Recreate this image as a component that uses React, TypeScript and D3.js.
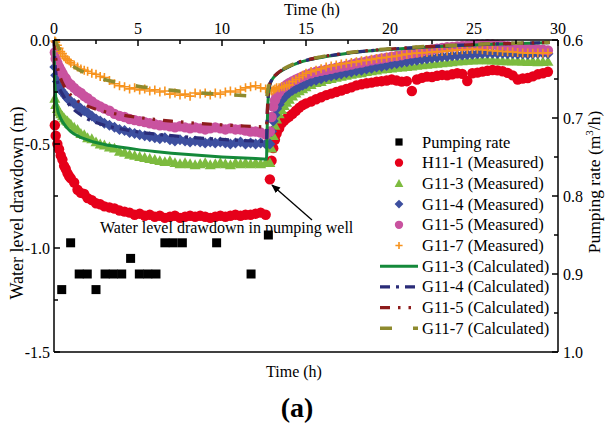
import React from "react";
import * as d3 from "d3";

// ---------- data ----------
const pumpHours = [0.05,0.1,0.2,0.3,0.4,0.5,0.6,0.7,0.8,0.9,1.0,1.2,1.4,1.6,1.8,2.0,2.25,2.5,2.75,3.0,3.3,3.6,3.9,4.2,4.5,4.8,5.1,5.4,5.7,6.0,6.3,6.6,6.9,7.2,7.5,7.8,8.1,8.4,8.7,9.0,9.3,9.6,9.9,10.2,10.5,10.8,11.1,11.4,11.7,12.0,12.3,12.6];
const recHours = [12.85,12.95,13.05,13.15,13.25,13.4,13.55,13.7,13.85,14.0,14.2,14.4,14.6,14.8,15.0,15.3,15.6,15.9,16.2,16.5,16.8,17.1,17.4,17.7,18.0,18.3,18.6,18.9,19.2,19.5,19.8,20.1,20.4,20.7,21.0,21.3,21.6,21.9,22.2,22.5,22.8,23.1,23.4,23.7,24.0,24.3,24.6,24.9,25.2,25.5,25.8,26.1,26.4,26.7,27.0,27.3,27.6,27.9,28.2,28.5,28.8,29.1,29.4];

const h111Pump = [-0.41,-0.46,-0.5,-0.525,-0.555,-0.575,-0.605,-0.62,-0.64,-0.655,-0.665,-0.685,-0.72,-0.735,-0.74,-0.76,-0.77,-0.785,-0.79,-0.8,-0.805,-0.81,-0.82,-0.825,-0.83,-0.84,-0.835,-0.845,-0.84,-0.85,-0.845,-0.855,-0.85,-0.845,-0.855,-0.85,-0.845,-0.85,-0.845,-0.85,-0.855,-0.85,-0.845,-0.85,-0.845,-0.84,-0.845,-0.84,-0.84,-0.835,-0.83,-0.84];
const h111Rec = [-0.67,-0.58,-0.52,-0.48,-0.45,-0.425,-0.4,-0.387,-0.376,-0.368,-0.355,-0.34,-0.325,-0.313,-0.305,-0.296,-0.285,-0.275,-0.265,-0.258,-0.25,-0.243,-0.235,-0.228,-0.218,-0.213,-0.208,-0.205,-0.2,-0.198,-0.195,-0.19,-0.195,-0.2,-0.198,-0.245,-0.19,-0.182,-0.176,-0.178,-0.172,-0.168,-0.17,-0.165,-0.16,-0.163,-0.197,-0.16,-0.157,-0.152,-0.148,-0.144,-0.146,-0.15,-0.158,-0.17,-0.19,-0.185,-0.183,-0.175,-0.165,-0.16,-0.153];

const g113Pump = [-0.28,-0.31,-0.33,-0.345,-0.355,-0.365,-0.375,-0.385,-0.39,-0.4,-0.405,-0.42,-0.43,-0.45,-0.455,-0.47,-0.475,-0.49,-0.5,-0.505,-0.515,-0.52,-0.535,-0.54,-0.55,-0.555,-0.56,-0.565,-0.57,-0.575,-0.58,-0.585,-0.58,-0.59,-0.595,-0.59,-0.595,-0.6,-0.595,-0.59,-0.6,-0.595,-0.59,-0.595,-0.6,-0.59,-0.595,-0.59,-0.595,-0.59,-0.595,-0.59];
const g113Rec = [-0.59,-0.52,-0.46,-0.41,-0.38,-0.355,-0.335,-0.315,-0.3,-0.285,-0.27,-0.255,-0.245,-0.235,-0.225,-0.215,-0.205,-0.2,-0.19,-0.185,-0.18,-0.175,-0.17,-0.165,-0.16,-0.158,-0.152,-0.148,-0.145,-0.14,-0.138,-0.135,-0.132,-0.13,-0.128,-0.125,-0.122,-0.12,-0.117,-0.115,-0.112,-0.11,-0.107,-0.105,-0.102,-0.1,-0.098,-0.097,-0.096,-0.095,-0.096,-0.097,-0.098,-0.1,-0.1,-0.102,-0.1,-0.103,-0.104,-0.102,-0.105,-0.104,-0.103];

const g114Pump = [-0.13,-0.17,-0.2,-0.225,-0.24,-0.25,-0.26,-0.27,-0.28,-0.29,-0.295,-0.305,-0.315,-0.33,-0.34,-0.35,-0.365,-0.38,-0.39,-0.4,-0.41,-0.42,-0.43,-0.435,-0.445,-0.45,-0.455,-0.46,-0.465,-0.47,-0.475,-0.47,-0.48,-0.485,-0.48,-0.485,-0.49,-0.485,-0.49,-0.495,-0.49,-0.495,-0.49,-0.495,-0.5,-0.495,-0.49,-0.5,-0.495,-0.5,-0.495,-0.5];
const g114Rec = [-0.5,-0.44,-0.39,-0.36,-0.33,-0.31,-0.29,-0.275,-0.262,-0.252,-0.242,-0.233,-0.225,-0.217,-0.21,-0.2,-0.193,-0.186,-0.178,-0.173,-0.168,-0.163,-0.158,-0.154,-0.148,-0.145,-0.14,-0.136,-0.13,-0.127,-0.122,-0.117,-0.113,-0.108,-0.104,-0.1,-0.097,-0.093,-0.09,-0.087,-0.084,-0.081,-0.079,-0.076,-0.074,-0.072,-0.07,-0.068,-0.066,-0.065,-0.064,-0.064,-0.065,-0.064,-0.066,-0.065,-0.067,-0.066,-0.068,-0.066,-0.065,-0.064,-0.066];

const g115Pump = [-0.06,-0.09,-0.11,-0.13,-0.145,-0.16,-0.175,-0.185,-0.2,-0.21,-0.215,-0.23,-0.245,-0.255,-0.27,-0.28,-0.295,-0.31,-0.32,-0.33,-0.34,-0.355,-0.365,-0.37,-0.38,-0.385,-0.39,-0.395,-0.4,-0.405,-0.41,-0.41,-0.415,-0.42,-0.415,-0.42,-0.425,-0.42,-0.425,-0.43,-0.425,-0.42,-0.425,-0.43,-0.425,-0.43,-0.43,-0.435,-0.44,-0.44,-0.445,-0.455];
const g115Rec = [-0.44,-0.37,-0.32,-0.29,-0.27,-0.25,-0.235,-0.225,-0.215,-0.207,-0.198,-0.19,-0.182,-0.175,-0.168,-0.16,-0.153,-0.148,-0.143,-0.138,-0.133,-0.128,-0.123,-0.118,-0.112,-0.108,-0.103,-0.098,-0.093,-0.089,-0.085,-0.08,-0.077,-0.073,-0.068,-0.064,-0.06,-0.055,-0.05,-0.046,-0.042,-0.038,-0.035,-0.033,-0.031,-0.029,-0.027,-0.025,-0.023,-0.022,-0.02,-0.021,-0.024,-0.026,-0.03,-0.033,-0.035,-0.037,-0.04,-0.042,-0.045,-0.047,-0.05];

const g117Pump = [-0.005,-0.01,-0.025,-0.04,-0.055,-0.065,-0.08,-0.09,-0.095,-0.1,-0.11,-0.12,-0.13,-0.14,-0.145,-0.15,-0.16,-0.165,-0.175,-0.18,-0.195,-0.21,-0.22,-0.225,-0.235,-0.23,-0.24,-0.235,-0.245,-0.24,-0.25,-0.245,-0.26,-0.255,-0.265,-0.26,-0.27,-0.255,-0.26,-0.255,-0.265,-0.255,-0.26,-0.25,-0.245,-0.25,-0.24,-0.23,-0.225,-0.22,-0.23,-0.235];
const g117Rec = [-0.24,-0.245,-0.24,-0.235,-0.23,-0.23,-0.225,-0.225,-0.22,-0.215,-0.2,-0.19,-0.18,-0.17,-0.16,-0.152,-0.145,-0.138,-0.13,-0.125,-0.12,-0.115,-0.112,-0.108,-0.105,-0.1,-0.097,-0.093,-0.089,-0.086,-0.083,-0.08,-0.077,-0.072,-0.068,-0.065,-0.063,-0.062,-0.06,-0.058,-0.056,-0.055,-0.053,-0.05,-0.048,-0.047,-0.046,-0.045,-0.045,-0.047,-0.049,-0.051,-0.053,-0.055,-0.056,-0.058,-0.06,-0.062,-0.063,-0.064,-0.063,-0.064,-0.062];

const rateHours = [0.46,0.99,1.5,1.98,2.5,3.04,3.53,4.03,4.56,5.08,5.58,6.07,6.6,7.1,7.64,9.68,11.73,12.76];
const rateValues = [0.92,0.86,0.9,0.9,0.92,0.9,0.9,0.9,0.88,0.9,0.9,0.9,0.86,0.86,0.86,0.86,0.9,0.85];

const calcHours = [0,0.05,0.1,0.2,0.35,0.5,0.75,1,1.5,2,2.5,3,4,5,6,7,8,9,10,11,12,12.65,12.68,12.72,12.78,12.85,12.95,13.1,13.3,13.6,14,14.6,15.2,16.2,17.2,18.2,20.2,22.2,24.2,26.1,28.1,29.5];
const g113Calc = [-0.05,-0.2,-0.27,-0.33,-0.368,-0.392,-0.42,-0.44,-0.465,-0.48,-0.493,-0.502,-0.516,-0.527,-0.536,-0.544,-0.551,-0.557,-0.562,-0.566,-0.57,-0.573,-0.45,-0.33,-0.25,-0.215,-0.195,-0.177,-0.162,-0.145,-0.128,-0.108,-0.095,-0.079,-0.067,-0.057,-0.044,-0.034,-0.026,-0.02,-0.016,-0.013];
const g114Calc = [0,-0.1,-0.15,-0.2,-0.237,-0.26,-0.295,-0.32,-0.355,-0.38,-0.397,-0.41,-0.428,-0.442,-0.452,-0.46,-0.467,-0.473,-0.478,-0.482,-0.486,-0.488,-0.4,-0.31,-0.245,-0.213,-0.194,-0.176,-0.161,-0.144,-0.127,-0.107,-0.094,-0.078,-0.066,-0.056,-0.043,-0.033,-0.025,-0.019,-0.015,-0.012];
const g115Calc = [0,-0.05,-0.085,-0.13,-0.175,-0.205,-0.24,-0.265,-0.298,-0.318,-0.333,-0.344,-0.36,-0.372,-0.382,-0.39,-0.397,-0.403,-0.408,-0.412,-0.416,-0.418,-0.37,-0.3,-0.24,-0.21,-0.192,-0.175,-0.16,-0.143,-0.126,-0.106,-0.093,-0.077,-0.065,-0.055,-0.042,-0.032,-0.025,-0.019,-0.015,-0.012];
const g117Calc = [0,-0.002,-0.008,-0.025,-0.05,-0.07,-0.097,-0.117,-0.144,-0.163,-0.178,-0.19,-0.208,-0.222,-0.233,-0.242,-0.25,-0.256,-0.261,-0.266,-0.27,-0.272,-0.265,-0.245,-0.22,-0.2,-0.186,-0.173,-0.159,-0.142,-0.125,-0.105,-0.092,-0.076,-0.064,-0.054,-0.041,-0.031,-0.024,-0.018,-0.014,-0.011];

const topTicks = [0, 5, 10, 15, 20, 25, 30];
const leftTicks = [0, -0.5, -1.0, -1.5];
const rightTicks = [0.6, 0.7, 0.8, 0.9, 1.0];

const legendLabels = [
  "Pumping rate",
  "H11-1 (Measured)",
  "G11-3 (Measured)",
  "G11-4 (Measured)",
  "G11-5 (Measured)",
  "G11-7 (Measured)",
  "G11-3 (Calculated)",
  "G11-4 (Calculated)",
  "G11-5 (Calculated)",
  "G11-7 (Calculated)",
];

// ---------- styles ----------
const FONT = "'Liberation Serif', 'Times New Roman', serif";
const C = {
  red: "#e6001a",
  green: "#7dbb3f",
  blue: "#3d4f9f",
  pink: "#c9529f",
  orange: "#f7931e",
  cGreen: "#14893a",
  cNavy: "#2a2c78",
  cRed: "#8d1c1c",
  cOlive: "#8e8a2e",
};

const zip = (xs: number[], ys: number[]) => xs.slice(0, Math.min(xs.length, ys.length)).map((t, i) => [t, ys[i]] as [number, number]);

function Marker({ kind, cx, cy, s = 1 }: { kind: string; cx: number; cy: number; s?: number }) {
  switch (kind) {
    case "square":
      return <rect x={cx - 4.5 * s} y={cy - 4.5 * s} width={9 * s} height={9 * s} fill="#000" />;
    case "circleRed":
      return <circle cx={cx} cy={cy} r={5.2 * s} fill={C.red} />;
    case "circlePink":
      return <circle cx={cx} cy={cy} r={5.2 * s} fill={C.pink} />;
    case "triangle": {
      const r = 5.5 * s;
      return <path d={`M${cx},${cy - r}L${cx + r},${cy + r * 0.8}L${cx - r},${cy + r * 0.8}Z`} fill={C.green} />;
    }
    case "diamond": {
      const r = 5.5 * s;
      return <path d={`M${cx},${cy - r}L${cx + r},${cy}L${cx},${cy + r}L${cx - r},${cy}Z`} fill={C.blue} />;
    }
    case "plus": {
      const r = 4.5 * s;
      return (
        <path d={`M${cx - r},${cy}H${cx + r}M${cx},${cy - r}V${cy + r}`} stroke={C.orange} strokeWidth={1.6} fill="none" />
      );
    }
  }
  return null;
}

export default function App() {
  const x = d3.scaleLinear().domain([0, 30]).range([54, 558]);
  const y = d3.scaleLinear().domain([-1.5, 0]).range([352, 40]);
  const yR = d3.scaleLinear().domain([1.0, 0.6]).range([352, 40]);
  const line = d3
    .line<[number, number]>()
    .x((d) => x(d[0]))
    .y((d) => y(d[1]))
    .curve(d3.curveMonotoneX);

  const measured = [
    { kind: "circleRed", data: [...zip(pumpHours, h111Pump), ...zip(recHours, h111Rec)] },
    { kind: "triangle", data: [...zip(pumpHours, g113Pump), ...zip(recHours, g113Rec)] },
    { kind: "diamond", data: [...zip(pumpHours, g114Pump), ...zip(recHours, g114Rec)] },
    { kind: "circlePink", data: [...zip(pumpHours, g115Pump), ...zip(recHours, g115Rec)] },
    { kind: "plus", data: [...zip(pumpHours, g117Pump), ...zip(recHours, g117Rec)] },
  ];

  const calc = [
    { color: C.cGreen, dash: "none", w: 3, data: zip(calcHours, g113Calc) },
    { color: C.cNavy, dash: "10 6 3 6", w: 3.2, data: zip(calcHours, g114Calc) },
    { color: C.cRed, dash: "10 8 2.5 8 2.5 8", w: 3.2, data: zip(calcHours, g115Calc) },
    { color: C.cOlive, dash: "12 21", w: 3.5, data: zip(calcHours, g117Calc) },
  ];

  const top = 40, bottom = 352, left = 54, right = 558;
  const minorTop = d3.range(0, 30.01, 2.5);
  const minorLeft = d3.range(0, -1.501, -0.25);
  const minorRight = d3.range(0.6, 1.001, 0.05);

  const legX = 399, legTextX = 422, legY0 = 142, legDy = 20.7;
  const legendKinds = ["square", "circleRed", "triangle", "diamond", "circlePink", "plus"];

  return (
    <svg
      width={605}
      height={433}
      style={{ position: "fixed", left: 0, top: 0, background: "#fff" }}
      fontFamily={FONT}
    >
      <defs>
        <marker id="arrowHead" viewBox="0 0 10 10" refX="9" refY="5" markerWidth="9" markerHeight="9" orient="auto-start-reverse" markerUnits="userSpaceOnUse">
          <path d="M0,1 L10,5 L0,9 Z" fill="#000" />
        </marker>
      </defs>
      <rect x={0} y={0} width={605} height={433} fill="#fff" />

      {/* pumping rate squares */}
      {rateHours.map((t, i) => (
        <Marker key={"r" + i} kind="square" cx={x(t)} cy={yR(rateValues[i])} />
      ))}

      {/* measured */}
      {measured.map((s, si) => (
        <g key={"m" + si}>
          {s.data.map((d, i) => (
            <Marker key={i} kind={s.kind} cx={x(d[0])} cy={y(d[1])} />
          ))}
        </g>
      ))}

      {/* calculated */}
      {calc.map((c, i) => (
        <path
          key={"c" + i}
          d={line(c.data) || ""}
          fill="none"
          stroke={c.color}
          strokeWidth={c.w}
          strokeDasharray={c.dash === "none" ? undefined : c.dash}
        />
      ))}

      {/* axes frame */}
      <g stroke="#000" strokeWidth={1.5} fill="none">
        <line x1={left} x2={right} y1={top} y2={top} />
        <line x1={left} x2={right} y1={bottom} y2={bottom} />
        <line x1={left} x2={left} y1={top} y2={bottom} />
        <line x1={right} x2={right} y1={top} y2={bottom} />
        {minorTop.map((t) => (
          <line key={"tt" + t} x1={x(t)} x2={x(t)} y1={top} y2={top + (t % 5 === 0 ? 6 : 4)} />
        ))}
        {minorLeft.map((v) => (
          <line key={"lt" + v} x1={left} x2={left + (Math.abs(v * 2 - Math.round(v * 2)) < 1e-6 ? 6 : 4)} y1={y(v)} y2={y(v)} />
        ))}
        {minorRight.map((v) => (
          <line key={"rt" + v} x1={right} x2={right - (Math.abs(v * 10 - Math.round(v * 10)) < 1e-6 ? 6 : 4)} y1={yR(v)} y2={yR(v)} />
        ))}
      </g>

      {/* tick labels */}
      <g fontSize={16} fill="#000">
        {topTicks.map((t) => (
          <text key={"tl" + t} x={x(t)} y={34} textAnchor="middle">{t}</text>
        ))}
        {leftTicks.map((v) => (
          <text key={"ll" + v} x={50} y={y(v) + 5.5} textAnchor="end">{v.toFixed(1)}</text>
        ))}
        {rightTicks.map((v) => (
          <text key={"rl" + v} x={563} y={yR(v) + 5.5} textAnchor="start">{v.toFixed(1)}</text>
        ))}
      </g>

      {/* axis titles */}
      <text x={312} y={15} fontSize={16} textAnchor="middle">Time (h)</text>
      <text x={294} y={377} fontSize={16} textAnchor="middle">Time (h)</text>
      <text x={297} y={417} fontSize={28} fontWeight="bold" textAnchor="middle">(a)</text>
      <text transform="translate(23,203) rotate(-90)" fontSize={18} textAnchor="middle">Water level drawdown (m)</text>
      <text transform="translate(600,182) rotate(-90)" fontSize={17.5} textAnchor="middle">
        Pumping rate (m<tspan dy={-7} fontSize={11}>3</tspan><tspan dy={7}>/h)</tspan>
      </text>

      {/* annotation */}
      <text x={100} y={233} fontSize={16}>Water level drawdown in pumping well</text>
      <line x1={312} y1={220} x2={272} y2={185} stroke="#000" strokeWidth={1.3} markerEnd="url(#arrowHead)" />

      {/* legend */}
      <g>
        {legendKinds.map((k, i) => (
          <Marker key={"lg" + i} kind={k} cx={legX} cy={legY0 + i * legDy} s={0.8} />
        ))}
        {calc.map((c, i) => {
          const yy = legY0 + (6 + i) * legDy;
          return (
            <line key={"lgl" + i} x1={380} x2={418} y1={yy} y2={yy} stroke={c.color} strokeWidth={c.w}
              strokeDasharray={c.dash === "none" ? undefined : c.dash} />
          );
        })}
        {legendLabels.map((l, i) => (
          <text key={"lt" + i} x={legTextX} y={legY0 + i * legDy + 5.5} fontSize={16.5}>{l}</text>
        ))}
      </g>
    </svg>
  );
}
